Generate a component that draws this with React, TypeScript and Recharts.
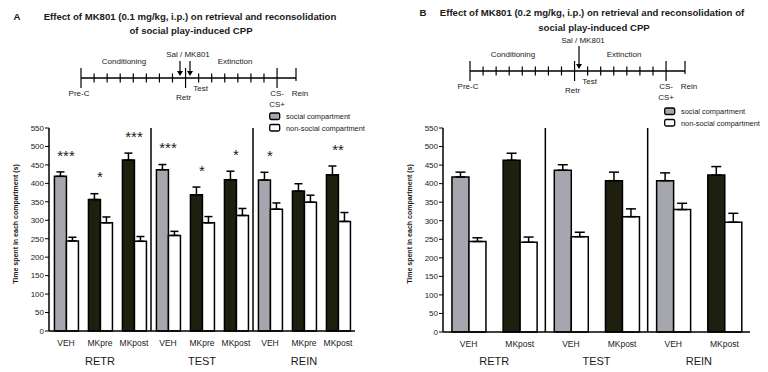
import React from 'react';
import { ComposedChart, Bar, Line, XAxis, YAxis, ErrorBar, Cell, LabelList, ReferenceLine, Legend } from 'recharts';

// panel A: MK801 0.1 mg/kg
const catsA = ['VEH', 'MKpre', 'MKpost', 'VEH', 'MKpre', 'MKpost', 'VEH', 'MKpre', 'MKpost'];
const socialA = [419, 356, 463, 437, 369, 410, 409, 379, 423];
const socialErrA = [12, 16, 19, 14, 21, 23, 21, 20, 24];
const nonSocialA = [244, 293, 243, 259, 293, 313, 330, 349, 297];
const nonSocialErrA = [10, 16, 13, 11, 17, 19, 17, 19, 24];
const sigA = ['***', '*', '***', '***', '*', '*', '*', '', '**'];

// panel B: MK801 0.2 mg/kg
const catsB = ['VEH', 'MKpost', 'VEH', 'MKpost', 'VEH', 'MKpost'];
const socialB = [418, 463, 436, 408, 408, 423];
const socialErrB = [13, 19, 15, 23, 21, 23];
const nonSocialB = [244, 242, 257, 311, 330, 296];
const nonSocialErrB = [10, 14, 12, 21, 17, 24];

const phases = ['RETR', 'TEST', 'REIN'];
const yTicks = [0, 50, 100, 150, 200, 250, 300, 350, 400, 450, 500, 550];

const GRAY = '#a6a7ae';
const DARK = '#1e1f0e';
const INK = '#1a1a1a';
const FONT = '"Liberation Sans", Arial, Helvetica, sans-serif';

function makeRows(cats: string[], social: number[], socialErr: number[], nonSocial: number[], nonSocialErr: number[], sig?: string[]) {
  return cats.map((cat, i) => ({
    cat,
    pos: i + 0.5,
    social: social[i],
    socialErr: [0, socialErr[i]],
    nonSocial: nonSocial[i],
    nonSocialErr: [0, nonSocialErr[i]],
    sig: sig ? sig[i] : '',
    starY: social[i] + socialErr[i] + 45,
  }));
}

const rowsA = makeRows(catsA, socialA, socialErrA, nonSocialA, nonSocialErrA, sigA);
const rowsB = makeRows(catsB, socialB, socialErrB, nonSocialB, nonSocialErrB);

function LegendBox(props: any) {
  const items = (props.payload || [])
    .filter((p: any) => p.type !== 'none')
    .sort((a: any, b: any) => (a.dataKey === 'social' ? -1 : 1) - (b.dataKey === 'social' ? -1 : 1));
  return (
    <svg width={130} height={24} style={{ overflow: 'visible', display: 'block' }}>
      {items.map((p: any, i: number) => (
        <g key={i} transform={`translate(0, ${i * 11.5})`}>
          <rect x={0.7} y={2} width={10} height={6.5} rx={1.5} fill={p.dataKey === 'social' ? GRAY : '#fff'} stroke="#000" strokeWidth={1.3} />
          <text x={17} y={8.2} fontSize={7.4} fill={INK} fontFamily={FONT}>{p.value}</text>
        </g>
      ))}
    </svg>
  );
}

function Panel({ rows, left, width, yWidth, right, gap, capW, legendLeft, legendTop, mainH, showStars }: any) {
  const n = rows.length;
  const per = n / 3;
  return (
    <div style={{ position: 'absolute', left, top: 0 }}>
      <ComposedChart width={width} height={372} data={rows} margin={{ top: 128, right, bottom: 0, left: 0 }} barGap={0} barCategoryGap={gap}>
        <XAxis dataKey="cat" height={mainH} tickLine={false} tickSize={0} tickMargin={9} interval={0}
          axisLine={{ stroke: '#000', strokeWidth: 1.5 }} tick={{ fontSize: 8.5, fill: INK, fontFamily: FONT }} />
        <XAxis xAxisId="grp" dataKey="pos" type="number" domain={[0, n]} allowDataOverflow height={21}
          ticks={phases.map((_, i) => per * i + per / 2)} tickFormatter={(v: number) => phases[Math.floor(v / per)]}
          axisLine={false} tickLine={false} tickSize={0} tickMargin={6} interval={0}
          tick={{ fontSize: 11, fill: INK, fontFamily: FONT }} />
        <YAxis width={yWidth} domain={[0, 550]} ticks={yTicks} interval={0} tickSize={4} tickMargin={1}
          axisLine={{ stroke: '#000', strokeWidth: 1.5 }} tickLine={{ stroke: '#000', strokeWidth: 1 }}
          tick={{ fontSize: 8, fill: INK, fontFamily: FONT }} />
        <ReferenceLine xAxisId="grp" x={per} stroke="#000" strokeWidth={1.5} />
        <ReferenceLine xAxisId="grp" x={per * 2} stroke="#000" strokeWidth={1.5} />
        <Legend layout="horizontal" verticalAlign="middle" align="center" content={LegendBox}
          wrapperStyle={{ left: legendLeft, top: legendTop, width: 130, height: 24 }} />
        <Bar dataKey="social" name="social compartment" fill={GRAY} stroke="#000" strokeWidth={1.5} isAnimationActive={false}>
          {rows.map((r: any, i: number) => <Cell key={i} fill={r.cat === 'VEH' ? GRAY : DARK} />)}
          <ErrorBar dataKey="socialErr" width={capW} stroke="#000" strokeWidth={1.5} direction="y" />
        </Bar>
        <Bar dataKey="nonSocial" name="non-social compartment" fill="#fff" stroke="#000" strokeWidth={1.5} isAnimationActive={false}>
          <ErrorBar dataKey="nonSocialErr" width={capW} stroke="#000" strokeWidth={1.5} direction="y" />
        </Bar>
        {showStars && (
          <Line dataKey="starY" stroke="none" dot={false} activeDot={false} legendType="none" isAnimationActive={false}>
            <LabelList dataKey="sig" position="center" style={{ fontSize: 15, fill: INK, fontFamily: FONT }} />
          </Line>
        )}
      </ComposedChart>
    </div>
  );
}

function Timeline({ x0, y, arrows, salX, salY, arrowTop }: any) {
  const step = 13.07;
  const big = [0, 8, 15];
  const ticks = Array.from({ length: 16 }, (_, i) => i);
  const rein = x0 + 215;
  const t = { fontSize: 8, fill: INK, fontFamily: FONT, textAnchor: 'middle' as const };
  return (
    <g>
      <line x1={x0} x2={rein} y1={y} y2={y} stroke="#000" strokeWidth={1.3} />
      {ticks.map((i) => (
        <line key={i} x1={x0 + i * step} x2={x0 + i * step} y1={y - (big.includes(i) ? 10 : 4.5)} y2={y + (big.includes(i) ? 10 : 4.5)} stroke="#000" strokeWidth={1.2} />
      ))}
      <line x1={rein} x2={rein} y1={y - 10} y2={y + 3} stroke="#000" strokeWidth={1.2} />
      <text x={x0 + 43} y={y - 14} {...t}>Conditioning</text>
      <text x={x0 + 154} y={y - 14} {...t}>Extinction</text>
      <text x={salX} y={salY} {...t}>Sal / MK801</text>
      {arrows.map((ax: number, i: number) => (
        <g key={i}>
          <line x1={ax} x2={ax} y1={arrowTop} y2={y - 4} stroke="#000" strokeWidth={1.2} />
          <path d={`M${ax - 3},${y - 7} L${ax + 3},${y - 7} L${ax},${y - 2} Z`} fill="#000" />
        </g>
      ))}
      <text x={x0 - 2} y={y + 17.5} {...t}>Pre-C</text>
      <text x={x0 + 8 * step - 2} y={y + 22} {...t}>Retr</text>
      <text x={x0 + 9 * step + 2} y={y + 12.5} {...t}>Test</text>
      <text x={x0 + 15 * step} y={y + 17.5} {...t}>CS-</text>
      <text x={x0 + 15 * step} y={y + 28.5} {...t}>CS+</text>
      <text x={rein + 4} y={y + 17.5} {...t}>Rein</text>
    </g>
  );
}

export default function App() {
  const title = { fontSize: 9.6, fontWeight: 700, fill: INK, fontFamily: FONT, textAnchor: 'middle' as const };
  const yTitle = { fontSize: 7, fontWeight: 700, fill: INK, fontFamily: FONT, textAnchor: 'middle' as const };
  return (
    <div style={{ position: 'absolute', left: 0, top: 0, width: 768, height: 372, background: '#fff', overflow: 'hidden' }}>
      <Panel rows={rowsA} left={0} width={384} yWidth={49} right={29} gap="16%" capW={4}
        legendLeft={269} legendTop={111} mainH={20} showStars />
      <Panel rows={rowsB} left={384} width={384} yWidth={59} right={18} gap="17.5%" capW={5}
        legendLeft={280} legendTop={106} mainH={19} />
      <svg width={768} height={372} style={{ position: 'absolute', left: 0, top: 0, pointerEvents: 'none' }}>
        <text x={17} y={19.5} {...title}>A</text>
        <text x={190} y={19.5} {...title}>Effect of MK801 (0.1 mg/kg, i.p.) on retrieval and reconsolidation</text>
        <text x={191} y={33.5} {...title}>of social play-induced CPP</text>
        <text x={423} y={15.5} {...title}>B</text>
        <text x={592} y={15.5} {...title}>Effect of MK801 (0.2 mg/kg, i.p.) on retrieval and reconsolidation of</text>
        <text x={594} y={30.5} {...title}>social play-induced CPP</text>
        <Timeline x0={81} y={78} arrows={[180, 190]} salX={188} salY={57} arrowTop={61} />
        <Timeline x0={470} y={71} arrows={[579]} salX={583} salY={43} arrowTop={46} />
        <text transform="translate(17.5, 224) rotate(-90)" {...yTitle}>Time spent in each compartment (s)</text>
        <text transform="translate(411.5, 224) rotate(-90)" {...yTitle}>Time spent in each compartment (s)</text>
      </svg>
    </div>
  );
}
